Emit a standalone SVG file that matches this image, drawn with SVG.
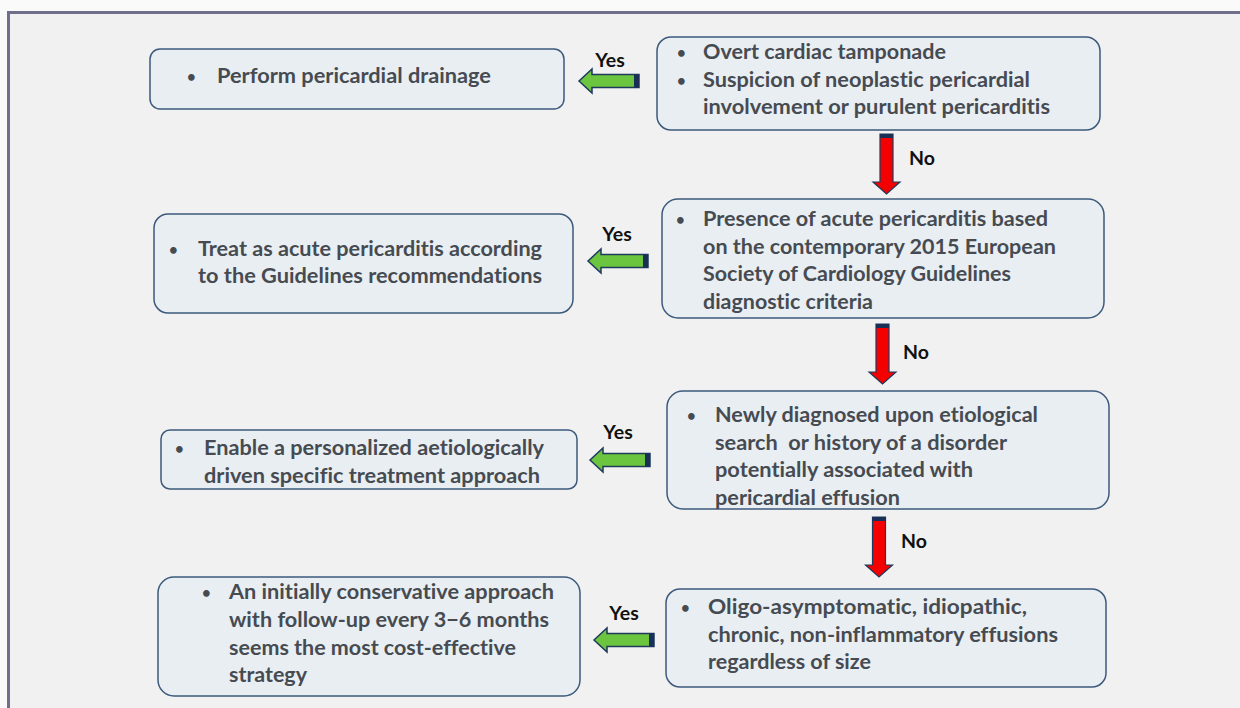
<svg xmlns="http://www.w3.org/2000/svg" width="1240" height="708" viewBox="0 0 1240 708">
<style>
.frame{fill:#f1f1f1;stroke:#6f6f8c;stroke-width:3}
.box{fill:#e9eef3;stroke:#3d5a7c;stroke-width:1.5}
.t{font-family:Lato,"Open Sans",sans-serif;font-weight:700;font-size:20px;fill:#464b51;font-variant-ligatures:none}
.b{font-family:Lato,"Open Sans",sans-serif;font-weight:700;font-size:15px;fill:#464b51}
.lbl{font-family:Lato,"Open Sans",sans-serif;font-weight:700;font-size:19.5px;fill:#111}
.gfill{fill:#6cc53e;stroke:#1e3a5c;stroke-width:1.5;stroke-linejoin:miter}
.rfill{fill:#f50000;stroke:#1e3a5c;stroke-width:1.2}
.navy{fill:#1a2f55}
</style>
<defs>
<g id="garrow">
<path class="gfill" d="M0,0 L13,-12 L13,-6.5 L60,-6.5 L60,6.5 L13,6.5 L13,12 Z"/>
<rect class="navy" x="55" y="-6.5" width="5" height="13"/>
</g>
<g id="rarrow">
<path class="rfill" d="M-6.5,0 L6.5,0 L6.5,48 L13.5,48 L0,60 L-13.5,48 L-6.5,48 Z"/>
<rect class="navy" x="-6.5" y="0" width="13" height="4"/>
</g>
</defs>
<rect x="0" y="0" width="1240" height="708" fill="#fafafa"/>
<rect class="frame" x="8.5" y="12.5" width="1250" height="720"/>

<g id="n1">
<rect class="box" x="150" y="49" width="414" height="60" rx="10"/>
<text class="b" x="187" y="82">•</text>
<text class="t" x="217" y="83" textLength="274" lengthAdjust="spacingAndGlyphs">Perform pericardial drainage</text>
</g>

<g id="n2">
<rect class="box" x="657" y="37" width="443" height="93" rx="14"/>
<text class="b" x="677" y="58">•</text>
<text class="t" x="703" y="59" textLength="243" lengthAdjust="spacingAndGlyphs">Overt cardiac tamponade</text>
<text class="b" x="677" y="85.5">•</text>
<text class="t" x="703" y="86.5" textLength="327" lengthAdjust="spacingAndGlyphs">Suspicion of neoplastic pericardial</text>
<text class="t" x="703" y="114" textLength="347" lengthAdjust="spacingAndGlyphs">involvement or purulent pericarditis</text>
</g>

<g id="n3">
<rect class="box" x="154" y="214" width="419" height="99" rx="14"/>
<text class="b" x="169" y="255">•</text>
<text class="t" x="198" y="256" textLength="344" lengthAdjust="spacingAndGlyphs">Treat as acute pericarditis according</text>
<text class="t" x="198" y="283" textLength="344" lengthAdjust="spacingAndGlyphs">to the Guidelines recommendations</text>
</g>

<g id="n4">
<rect class="box" x="662" y="199" width="442" height="119" rx="16"/>
<text class="b" x="676" y="225">•</text>
<text class="t" x="703" y="226" textLength="345" lengthAdjust="spacingAndGlyphs">Presence of acute pericarditis based</text>
<text class="t" x="703" y="253.5" textLength="353" lengthAdjust="spacingAndGlyphs">on the contemporary 2015 European</text>
<text class="t" x="703" y="281" textLength="308" lengthAdjust="spacingAndGlyphs">Society of Cardiology Guidelines</text>
<text class="t" x="703" y="308.5" textLength="170" lengthAdjust="spacingAndGlyphs">diagnostic criteria</text>
</g>

<g id="n5">
<rect class="box" x="161" y="430" width="416" height="59" rx="9"/>
<text class="b" x="175" y="454">•</text>
<text class="t" x="204" y="455" textLength="340" lengthAdjust="spacingAndGlyphs">Enable a personalized aetiologically</text>
<text class="t" x="204" y="483" textLength="336" lengthAdjust="spacingAndGlyphs">driven specific treatment approach</text>
</g>

<g id="n6">
<rect class="box" x="667" y="391" width="442" height="118" rx="16"/>
<text class="b" x="687" y="421">•</text>
<text class="t" x="715" y="422" textLength="323" lengthAdjust="spacingAndGlyphs">Newly diagnosed upon etiological</text>
<text class="t" x="715" y="449.5" textLength="292" lengthAdjust="spacingAndGlyphs" xml:space="preserve">search  or history of a disorder</text>
<text class="t" x="715" y="477" textLength="258" lengthAdjust="spacingAndGlyphs">potentially associated with</text>
<text class="t" x="715" y="504.5" textLength="185" lengthAdjust="spacingAndGlyphs">pericardial effusion</text>
</g>

<g id="n7">
<rect class="box" x="158" y="577" width="422" height="119" rx="16"/>
<text class="b" x="202" y="598">•</text>
<text class="t" x="229" y="599" textLength="325" lengthAdjust="spacingAndGlyphs">An initially conservative approach</text>
<text class="t" x="229" y="627" textLength="320" lengthAdjust="spacingAndGlyphs">with follow-up every 3−6 months</text>
<text class="t" x="229" y="655" textLength="287" lengthAdjust="spacingAndGlyphs">seems the most cost-effective</text>
<text class="t" x="229" y="682" textLength="78" lengthAdjust="spacingAndGlyphs">strategy</text>
</g>

<g id="n8">
<rect class="box" x="666" y="589" width="440" height="98" rx="14"/>
<text class="b" x="681" y="613">•</text>
<text class="t" x="708" y="614" textLength="319" lengthAdjust="spacingAndGlyphs">Oligo-asymptomatic, idiopathic,</text>
<text class="t" x="708" y="641.5" textLength="350" lengthAdjust="spacingAndGlyphs">chronic, non-inflammatory effusions</text>
<text class="t" x="708" y="669" textLength="163" lengthAdjust="spacingAndGlyphs">regardless of size</text>
</g>

<g id="connectors">
<use href="#garrow" x="579" y="81"/>
<text class="lbl" x="610" y="67" text-anchor="middle">Yes</text>
<use href="#garrow" x="588" y="261"/>
<text class="lbl" x="617" y="241" text-anchor="middle">Yes</text>
<use href="#garrow" x="590" y="460"/>
<text class="lbl" x="618" y="439" text-anchor="middle">Yes</text>
<use href="#garrow" x="594" y="640"/>
<text class="lbl" x="624" y="620" text-anchor="middle">Yes</text>

<use href="#rarrow" x="886.5" y="134"/>
<text class="lbl" x="909" y="165">No</text>
<use href="#rarrow" x="882.5" y="324"/>
<text class="lbl" x="903" y="359">No</text>
<use href="#rarrow" x="879" y="517"/>
<text class="lbl" x="901" y="548">No</text>
</g>
</svg>
